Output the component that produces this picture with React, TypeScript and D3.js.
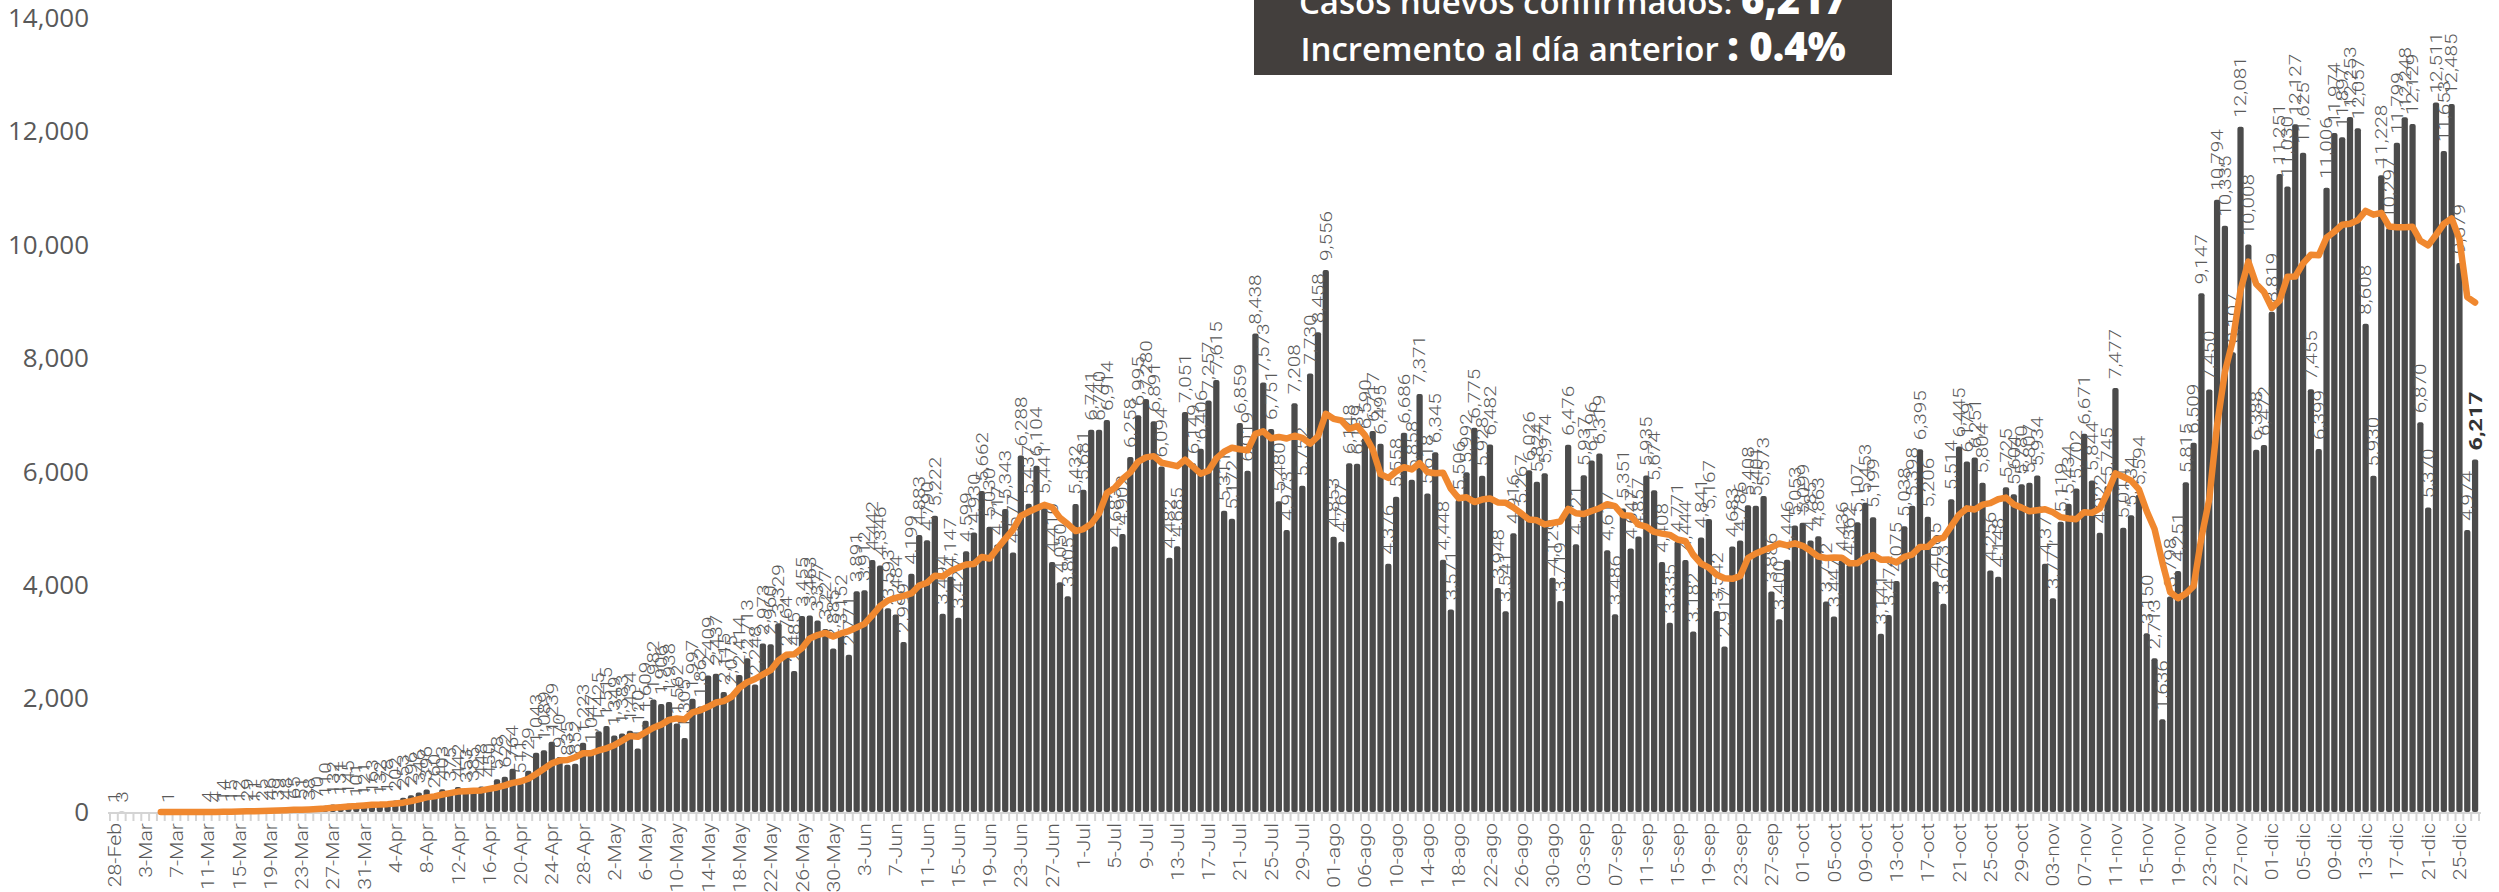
import * as React from 'react';
import * as d3 from 'd3';

// one label every 4th bar, as printed on the chart
const tickLabels = [
  '28-Feb', '3-Mar', '7-Mar', '11-Mar', '15-Mar', '19-Mar', '23-Mar', '27-Mar', '31-Mar',
  '4-Apr', '8-Apr', '12-Apr', '16-Apr', '20-Apr', '24-Apr', '28-Apr',
  '2-May', '6-May', '10-May', '14-May', '18-May', '22-May', '26-May', '30-May',
  '3-Jun', '7-Jun', '11-Jun', '15-Jun', '19-Jun', '23-Jun', '27-Jun',
  '1-Jul', '5-Jul', '9-Jul', '13-Jul', '17-Jul', '21-Jul', '25-Jul', '29-Jul',
  '01-ago', '06-ago', '10-ago', '14-ago', '18-ago', '22-ago', '26-ago', '30-ago',
  '03-sep', '07-sep', '11-sep', '15-sep', '19-sep', '23-sep', '27-sep',
  '01-oct', '05-oct', '09-oct', '13-oct', '17-oct', '21-oct', '25-oct', '29-oct',
  '03-nov', '07-nov', '11-nov', '15-nov', '19-nov', '23-nov', '27-nov',
  '01-dic', '05-dic', '09-dic', '13-dic', '17-dic', '21-dic', '25-dic',
];

const febMar = [1, 3, 0, 0, 0, 0, 0, 1, 0, 0, 0, 0,
  4, 4, 14, 15, 12, 29, 11, 25, 46, 39, 48, 65, 51, 38, 70, 110,
  132, 131, 145, 101, 121];
const april = [163, 132, 178, 202, 253, 296, 346, 396, 260, 403, 375, 442, 353, 385, 448,
  450, 578, 622, 764, 511, 729, 1043, 1089, 1239, 970, 835, 852, 1223, 1047, 1425];
const may = [1515, 1349, 1383, 1434, 1120, 1609, 1982, 1906, 1938, 1562, 1305, 1997, 1862,
  2409, 2437, 2115, 2075, 2414, 2713, 2248, 2973, 2960, 3329, 2764, 2485, 3455, 3463,
  3377, 3227, 2885, 3152];
const june = [2771, 3891, 3912, 4442, 4346, 3593, 3484, 2999, 4199, 4883, 4790, 5222, 3494,
  4147, 3427, 4599, 4930, 5662, 5030, 4717, 5343, 4577, 6288, 5437, 6104, 5441, 4410,
  4050, 3805, 5432];
const july = [5681, 6741, 6740, 6914, 4683, 4902, 6258, 6995, 7280, 6891, 6094, 4482, 4685,
  7051, 6149, 6406, 7257, 7615, 5311, 5172, 6859, 6019, 8438, 7573, 6751, 5480, 4973,
  7208, 5752, 7730, 8458];
const august = [9556, 4853, 4767, 6148, 6139, 6590, 6717, 6495, 4376, 5558, 6686, 5858, 7371,
  5618, 6345, 4448, 3571, 5506, 5992, 6775, 5928, 6482, 3948, 3541, 4916, 5267, 6026,
  5824, 5974, 4129, 3719];
const september = [6476, 4721, 5937, 6196, 6319, 4617, 3486, 5351, 4647, 4857, 5935, 5674,
  4408, 3335, 4771, 4444, 3182, 4841, 5167, 3542, 2917, 4683, 4786, 5408, 5401, 5573,
  3886, 3400, 4446, 5053];
const october = [5099, 4785, 4863, 3712, 3447, 4436, 4362, 5107, 5453, 5199, 3141, 3474,
  4075, 5038, 5398, 6395, 5206, 4065, 3673, 5514, 6445, 6179, 6251, 5804, 4256, 4148,
  5725, 5604, 5780, 5807, 5934];
const november = [4377, 3771, 5119, 5434, 5702, 6671, 5844, 4922, 5745, 7477, 5014, 5234,
  5594, 3150, 2713, 1636, 3798, 4251, 5815, 6509, 9147, 7450, 10794, 10335, 8107, 12081,
  10008, 6388, 6472];
const december = [8819, 11251, 11030, 12127, 11625, 7455, 6399, 11006, 11974, 11897, 12253,
  12057, 8608, 5930, 11228, 10297, 11799, 12248, 12129, 6870, 5370, 12511, 11653, 12485,
  9679, 4974, 6217];

const dailyCases = [...febMar, ...april, ...may, ...june, ...july, ...august,
  ...september, ...october, ...november, ...december];

const yTicks = [0, 2000, 4000, 6000, 8000, 10000, 12000, 14000];

const width = 2499;
const height = 892;
const baseY = 812;

export default function App() {
  const svgRef = React.useRef<SVGSVGElement>(null);

  React.useEffect(() => {
    document.body.style.margin = '0';
    document.body.style.overflow = 'hidden';

    const svg = d3.select(svgRef.current);
    svg.selectAll('*').remove();

    const n = dailyCases.length;
    const x = d3.scaleBand<number>()
      .domain(d3.range(n))
      .range([110, 2479])
      .paddingInner(0.2)
      .paddingOuter(0.1);
    const y = d3.scaleLinear().domain([0, 14000]).range([baseY, 18]);
    const bw = x.bandwidth();
    const cx = (i: number) => (x(i) as number) + bw / 2;
    const fmt = d3.format(',');

    // y axis, labels only
    const yAxis = svg.append('g')
      .attr('transform', 'translate(89,0)')
      .call(d3.axisLeft(y).tickValues(yTicks).tickFormat((d) => fmt(d as number)).tickSize(0).tickPadding(0));
    yAxis.select('.domain').remove();
    yAxis.selectAll('text')
      .attr('font-family', '"Open Sans", sans-serif')
      .attr('font-size', 26)
      .attr('fill', '#595959');

    // baseline and small ticks between bars
    svg.append('line')
      .attr('x1', 108).attr('x2', 2481)
      .attr('y1', baseY + 1).attr('y2', baseY + 1)
      .attr('stroke', '#d4d4d4').attr('stroke-width', 2);
    svg.append('g').selectAll('line')
      .data(d3.range(n + 1))
      .enter().append('line')
      .attr('x1', (i) => (x(0) as number) - (x.step() - bw) / 2 + i * x.step())
      .attr('x2', (i) => (x(0) as number) - (x.step() - bw) / 2 + i * x.step())
      .attr('y1', baseY + 1).attr('y2', baseY + 9)
      .attr('stroke', '#d4d4d4').attr('stroke-width', 2);

    // bars
    svg.append('g').selectAll('rect')
      .data(dailyCases)
      .enter().append('rect')
      .attr('x', (_, i) => x(i) as number)
      .attr('y', (d) => y(d))
      .attr('width', bw)
      .attr('height', (d) => baseY - y(d))
      .attr('rx', 2)
      .attr('fill', '#4b4b4b');

    // value labels above bars
    svg.append('g').selectAll('text')
      .data(dailyCases.map((v, i) => ({ v, i })).filter((d) => d.v > 0))
      .enter().append('text')
      .attr('transform', (d) => `translate(${cx(d.i)},${y(d.v) - 9}) rotate(-90) scale(1.22,1)`)
      .attr('dominant-baseline', 'central')
      .attr('font-family', 'Roboto, sans-serif')
      .attr('font-size', (d) => (d.i === n - 1 ? 19 : 17))
      .attr('font-weight', (d) => (d.i === n - 1 ? 700 : 300))
      .attr('fill', (d) => (d.i === n - 1 ? '#333' : '#5a5a5a'))
      .text((d) => fmt(d.v));

    // x labels
    svg.append('g').selectAll('text')
      .data(tickLabels)
      .enter().append('text')
      .attr('transform', (_, k) => `translate(${cx(k * 4)},${baseY + 11}) rotate(-90) scale(1.12,1)`)
      .attr('text-anchor', 'end')
      .attr('dominant-baseline', 'central')
      .attr('font-family', 'Roboto, sans-serif')
      .attr('font-size', 19)
      .attr('font-weight', 300)
      .attr('fill', '#595959')
      .text((d) => d);

    // 7 day moving average
    const avg = d3.range(6, n).map((i) => ({ i, v: d3.mean(dailyCases.slice(i - 6, i + 1)) as number }));
    svg.append('path')
      .datum(avg)
      .attr('fill', 'none')
      .attr('stroke', '#f0882f')
      .attr('stroke-width', 6.5)
      .attr('stroke-linejoin', 'round')
      .attr('stroke-linecap', 'round')
      .attr('d', d3.line<{ i: number; v: number }>().x((d) => cx(d.i)).y((d) => y(d.v)));

    // title box
    const box = svg.append('g');
    box.append('rect')
      .attr('x', 1254).attr('y', -10).attr('width', 638).attr('height', 85)
      .attr('fill', '#433f3d');
    const t1 = box.append('text')
      .attr('x', 1573).attr('y', 14)
      .attr('text-anchor', 'middle')
      .attr('font-family', '"Open Sans", sans-serif')
      .attr('fill', '#fff');
    t1.append('tspan').attr('font-size', 33).attr('font-weight', 600).text('Casos nuevos confirmados: ');
    t1.append('tspan').attr('font-size', 40).attr('font-weight', 800).text('6,217');
    const t2 = box.append('text')
      .attr('x', 1573).attr('y', 61)
      .attr('text-anchor', 'middle')
      .attr('font-family', '"Open Sans", sans-serif')
      .attr('fill', '#fff');
    t2.append('tspan').attr('font-size', 33).attr('font-weight', 600).text('Incremento al día anterior ');
    t2.append('tspan').attr('font-size', 40).attr('font-weight', 800).text(': 0.4%');
  }, []);

  return (
    <svg ref={svgRef} width={width} height={height} style={{ display: 'block' }} />
  );
}
